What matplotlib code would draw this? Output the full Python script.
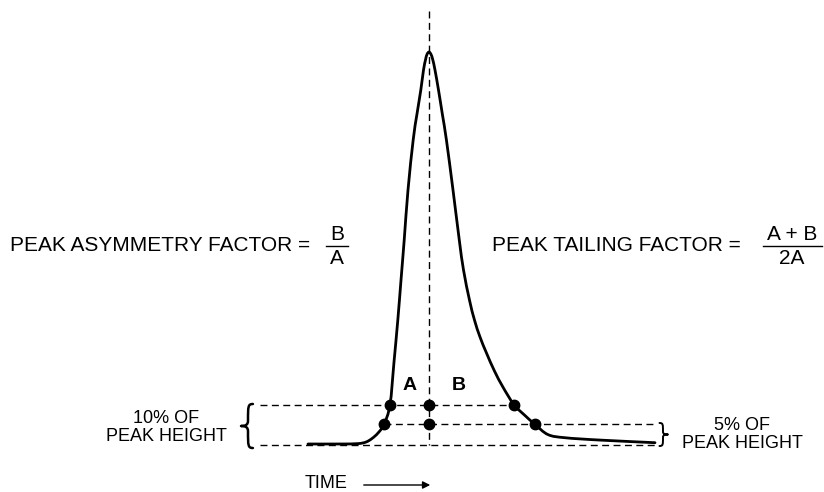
import numpy as np
import matplotlib
matplotlib.use("Agg")
import matplotlib.pyplot as plt
from matplotlib.path import Path
from matplotlib.patches import PathPatch

# ---- data (time in arbitrary units, signal in % of peak height) ----
curve_time = [308, 340, 358, 366, 372, 378, 384, 390, 394, 397.8, 401, 404.2, 408, 413.2,
              416.8, 420.8, 423.5, 425.5, 427, 429,
              431, 432.8, 435, 438.5, 442.5, 446.4, 453, 459.3, 463.5, 469.5, 474.5, 480,
              486.5, 494.5, 503, 514, 524, 535, 548, 565, 600, 655]
curve_signal = [0, 0, 0.1, 0.5, 1.4, 2.8, 5, 10, 20.9, 31.6, 41.8, 52.0, 64.8, 77.6,
                83.9, 90.3, 95.4, 98.0, 99.4, 100,
                99.4, 98.0, 95.4, 90.3, 83.9, 77.6, 64.8, 52.0, 44.4, 36.7, 31.6, 27.3,
                23.2, 18.6, 14.5, 10, 7.5, 5, 2.4, 1.6, 1.0, 0.33]
peak_time = 429
level_10 = 10
level_5 = 5
pts10_time = [390, 429, 514]
pts5_time = [384, 429, 535]

FONT = ["Liberation Sans", "DejaVu Sans"]
PX = 3.92  # pixels per percent


def ypx(y):
    return (444 - y) / PX


fig = plt.figure(figsize=(8.24, 4.92), dpi=100)
ax = fig.add_axes([0, 0, 1, 1])
ax.set_xlim(0, 824)
ax.set_ylim(ypx(492), ypx(0))
ax.axis("off")


def smooth_path(xs, ys):
    P = np.column_stack([xs, ys]).astype(float)
    n = len(P)
    verts = [P[0]]
    codes = [Path.MOVETO]
    for i in range(n - 1):
        p0 = P[i - 1] if i > 0 else P[i]
        p1 = P[i]
        p2 = P[i + 1]
        p3 = P[i + 2] if i + 2 < n else P[i + 1]
        c1 = p1 + (p2 - p0) / 6.0
        c2 = p2 - (p3 - p1) / 6.0
        verts += [c1, c2, p2]
        codes += [Path.CURVE4] * 3
    return Path(verts, codes)


ax.add_patch(PathPatch(smooth_path(curve_time, curve_signal), fill=False,
                       lw=2.0, ec="black", capstyle="round", joinstyle="round", zorder=3))

dash = (0, (5, 3.2))
ax.plot([260, 514], [level_10, level_10], ls=dash, lw=1.0, color="black")
ax.plot([384, 657], [level_5, level_5], ls=dash, lw=1.0, color="black")
ax.plot([260, 657], [-0.25, -0.25], ls=dash, lw=1.0, color="black")
ax.plot([peak_time, peak_time], [ypx(11), -0.25], ls=dash, lw=1.0, color="black")

ax.plot(pts10_time, [level_10] * 3, "o", ms=7.5, color="black", zorder=4)
ax.plot(pts5_time, [level_5] * 3, "o", ms=7.5, color="black", zorder=4)


def brace(x, y0, y1, w, side, lw=1.6):
    """curly brace with spine at x spanning y0..y1; side=-1 tip points left '{', +1 right '}'"""
    ym = (y0 + y1) / 2.0
    h = y1 - y0
    hook = x - side * w * 0.7
    tip = x + side * w
    v = [(hook, y1), (x, y1), (x, y1 - h * 0.05), (x, ym + h * 0.12),
         (x, ym + h * 0.03), (x + side * w * 0.3, ym), (tip, ym),
         (x + side * w * 0.3, ym), (x, ym - h * 0.03), (x, ym - h * 0.12),
         (x, y0 + h * 0.05), (x, y0), (hook, y0)]
    c = [Path.MOVETO] + [Path.CURVE4] * 12
    ax.add_patch(PathPatch(Path(v, c), fill=False, lw=lw, ec="black",
                           capstyle="round", joinstyle="round"))


brace(248, ypx(448), ypx(404), 7, -1, lw=1.8)
brace(663, ypx(446), ypx(423), 5, 1, lw=1.4)

fs = 15
ax.text(10, ypx(245.5), "PEAK ASYMMETRY FACTOR =", ha="left", va="center",
        fontsize=fs, family=FONT)
ax.text(337, ypx(235), "B", ha="center", va="center", fontsize=fs, family=FONT)
ax.plot([326, 348], [ypx(246)] * 2, color="black", lw=1.0)
ax.text(337, ypx(258.5), "A", ha="center", va="center", fontsize=fs, family=FONT)

ax.text(492, ypx(245.5), "PEAK TAILING FACTOR =", ha="left", va="center",
        fontsize=fs, family=FONT)
ax.text(792, ypx(235), "A + B", ha="center", va="center", fontsize=fs, family=FONT)
ax.plot([763, 822], [ypx(246)] * 2, color="black", lw=1.0)
ax.text(792, ypx(258.5), "2A", ha="center", va="center", fontsize=fs, family=FONT)

ax.text(409.5, ypx(385), "A", ha="center", va="center", fontsize=14,
        fontweight="bold", family=FONT)
ax.text(459, ypx(385), "B", ha="center", va="center", fontsize=14,
        fontweight="bold", family=FONT)

fs2 = 13
ax.text(166, ypx(418.5), "10% OF", ha="center", va="center", fontsize=fs2, family=FONT)
ax.text(166, ypx(436.5), "PEAK HEIGHT", ha="center", va="center", fontsize=fs2, family=FONT)
ax.text(742, ypx(426), "5% OF", ha="center", va="center", fontsize=fs2, family=FONT)
ax.text(742, ypx(443.5), "PEAK HEIGHT", ha="center", va="center", fontsize=fs2, family=FONT)

ax.text(305, ypx(484), "TIME", ha="left", va="center", fontsize=fs2, family=FONT)
ax.annotate("", xy=(433, ypx(485)), xytext=(361, ypx(485)),
            arrowprops=dict(arrowstyle="-|>", lw=1.0, color="black", mutation_scale=11))

fig.savefig("out.png", dpi=100)
